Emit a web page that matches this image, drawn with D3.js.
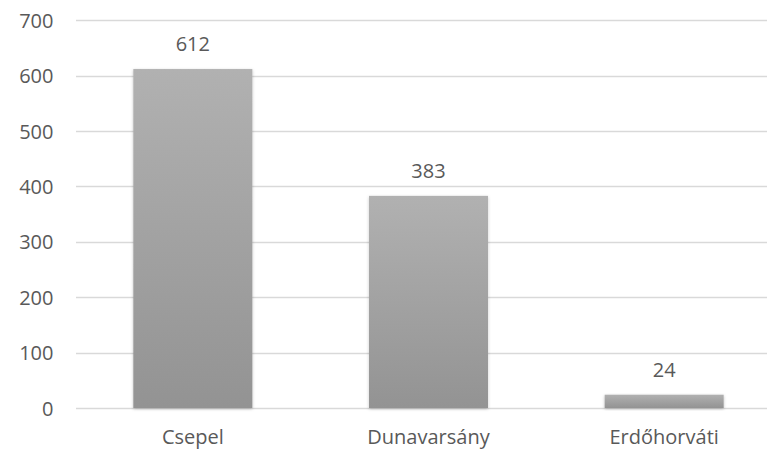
<!DOCTYPE html>
<html><head><meta charset="utf-8">
<script src="https://cdn.jsdelivr.net/npm/d3@7"></script>
<style>body{margin:0;background:#fff;}svg{display:block;}</style>
</head><body>
<svg id="c" width="767" height="450"></svg>
<script>
const categories = ["Csepel", "Dunavarsány", "Erdőhorváti"];
const values = [612, 383, 24];
const yTicks = [0, 100, 200, 300, 400, 500, 600, 700];

const svg = d3.select("#c");
const font = "'Open Sans', sans-serif";
const fs = 20;
const textColor = "#595959";

const y = d3.scaleLinear().domain([0, 700]).range([408, 20.3]);
const x = d3.scaleBand().domain(categories).range([75, 782])
  .paddingInner(0.495).paddingOuter(0.2475);

const defs = svg.append("defs");
const grad = defs.append("linearGradient").attr("id", "g").attr("x1", 0).attr("y1", 0).attr("x2", 0).attr("y2", 1);
grad.append("stop").attr("offset", "0%").attr("stop-color", "#b1b1b1");
grad.append("stop").attr("offset", "100%").attr("stop-color", "#939393");
const f = defs.append("filter").attr("id", "sh").attr("x", "-10%").attr("y", "-10%").attr("width", "120%").attr("height", "130%");
f.append("feDropShadow").attr("dx", 0).attr("dy", 1).attr("stdDeviation", 1.5).attr("flood-color", "#000").attr("flood-opacity", 0.25);

// y axis labels
const yAxis = d3.axisLeft(y).tickValues(yTicks).tickSize(0).tickPadding(0);
const gy = svg.append("g").attr("transform", "translate(53.5,0)").call(yAxis);
gy.select(".domain").remove();
gy.selectAll("text").attr("font-family", font).attr("font-size", fs).attr("fill", textColor).attr("dy", "0.357em");

// gridlines
svg.append("g").selectAll("line").data(yTicks).join("line")
  .attr("x1", 76).attr("x2", 767)
  .attr("y1", d => Math.round(y(d)) + 0.5).attr("y2", d => Math.round(y(d)) + 0.5)
  .attr("stroke", "#d9d9d9").attr("stroke-width", 1.3);

// bars
svg.append("g").selectAll("rect").data(categories).join("rect")
  .attr("x", d => x(d)).attr("width", x.bandwidth())
  .attr("y", (d, i) => y(values[i])).attr("height", (d, i) => y(0) - y(values[i]))
  .attr("fill", "url(#g)").attr("filter", "url(#sh)");

// value labels
svg.append("g").selectAll("text").data(categories).join("text")
  .attr("x", d => x(d) + x.bandwidth() / 2)
  .attr("y", (d, i) => y(values[i]) - 25)
  .attr("dy", "0.357em").attr("text-anchor", "middle")
  .attr("font-family", font).attr("font-size", fs).attr("fill", textColor)
  .text((d, i) => values[i]);

// category axis
const xAxis = d3.axisBottom(x).tickSize(0).tickPadding(0);
const gx = svg.append("g").attr("transform", "translate(0,444)").call(xAxis);
gx.select(".domain").remove();
gx.selectAll("text").attr("y", 0).attr("font-family", font).attr("font-size", fs).attr("fill", textColor).attr("dy", 0);
</script>
</body></html>
